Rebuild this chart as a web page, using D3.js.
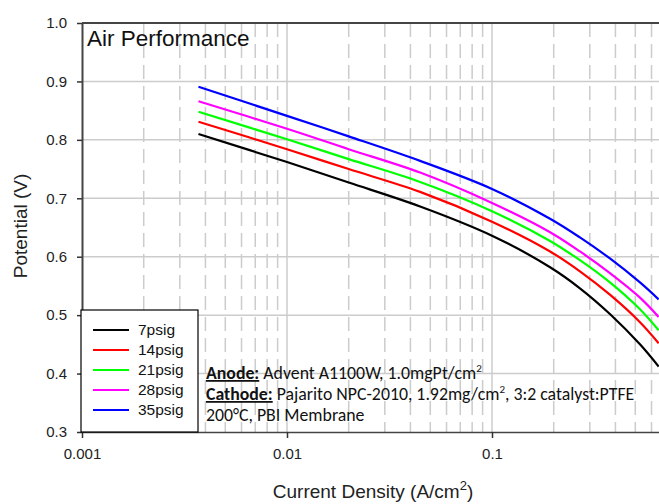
<!DOCTYPE html>
<html><head><meta charset="utf-8">
<script src="https://cdn.jsdelivr.net/npm/d3@7/dist/d3.min.js"></script>
<style>
body{margin:0;background:#fff;}
svg{display:block;}
</style></head>
<body>
<svg id="chart" width="659" height="504"></svg>
<script>
// ---- data ----
const seriesNames = ["7psig", "14psig", "21psig", "28psig", "35psig"];
const currentDensity = [0.0037, 0.01, 0.02, 0.0446, 0.1, 0.192, 0.2685, 0.376, 0.527, 0.65];
const v7psig  = [0.810, 0.762, 0.727, 0.686, 0.636, 0.582, 0.546, 0.502, 0.450, 0.412];
const v14psig = [0.831, 0.784, 0.750, 0.711, 0.660, 0.609, 0.575, 0.535, 0.488, 0.452];
const v21psig = [0.848, 0.801, 0.767, 0.728, 0.678, 0.627, 0.594, 0.556, 0.510, 0.474];
const v28psig = [0.866, 0.819, 0.784, 0.744, 0.692, 0.642, 0.609, 0.572, 0.530, 0.497];
const v35psig = [0.891, 0.841, 0.806, 0.764, 0.716, 0.665, 0.633, 0.597, 0.556, 0.527];
const xTickValues = [0.001, 0.01, 0.1];
const xTickLabels = ["0.001", "0.01", "0.1"];
const yTickValues = [0.3, 0.4, 0.5, 0.6, 0.7, 0.8, 0.9, 1.0];
const yTickLabels = ["0.3", "0.4", "0.5", "0.6", "0.7", "0.8", "0.9", "1.0"];

const seriesValues = [v7psig, v14psig, v21psig, v28psig, v35psig];
const colors = ["#000000", "#ff0000", "#00ff00", "#ff00ff", "#0000ff"];

(function () {
const svg = d3.select("#chart");
const pLeft = 82, pTop = 23, pBottom = 432;
const decade = 205;
const pRight = pLeft + decade * Math.log10(0.65 / 0.001);

const x = d3.scaleLog().domain([0.001, 0.65]).range([pLeft, pRight]);
const y = d3.scaleLinear().domain([0.3, 1.0]).range([pBottom, pTop]);

const sans = "'Liberation Sans', Arial, sans-serif";
const gridColor = "#cccccc";

// minor dashed x gridlines
const minor = [];
[0.001, 0.01, 0.1].forEach(d => { for (let k = 2; k <= 9; k++) { const v = d * k; if (v < 0.65) minor.push(v); } });
svg.append("g").selectAll("line").data(minor).join("line")
  .attr("x1", d => x(d)).attr("x2", d => x(d)).attr("y1", pTop).attr("y2", pBottom)
  .attr("stroke", gridColor).attr("stroke-width", 1.5).attr("stroke-dasharray", "14,7");
// major gridlines
svg.append("g").selectAll("line").data(xTickValues.slice(1)).join("line")
  .attr("x1", d => x(d)).attr("x2", d => x(d)).attr("y1", pTop).attr("y2", pBottom)
  .attr("stroke", gridColor).attr("stroke-width", 1.5);
svg.append("g").selectAll("line").data(yTickValues.slice(1, -1)).join("line")
  .attr("x1", pLeft).attr("x2", 659).attr("y1", d => y(d)).attr("y2", d => y(d))
  .attr("stroke", gridColor).attr("stroke-width", 1.5);

// curves
svg.append("clipPath").attr("id", "clip").append("rect")
  .attr("x", pLeft).attr("y", pTop).attr("width", 659 - pLeft).attr("height", pBottom - pTop);
const line = d3.line().x(d => x(d[0])).y(d => y(d[1])).curve(d3.curveCatmullRom.alpha(0.5));
svg.append("g").attr("clip-path", "url(#clip)").selectAll("path").data(seriesValues).join("path")
  .attr("d", vals => line(currentDensity.map((c, i) => [c, vals[i]])))
  .attr("fill", "none").attr("stroke", (d, i) => colors[i]).attr("stroke-width", 2.2);

// axes
const xAxis = svg.append("g").attr("transform", `translate(0,${pBottom})`)
  .call(d3.axisBottom(x).tickValues(xTickValues).tickFormat((d, i) => xTickLabels[i]).tickSize(6).tickSizeOuter(0));
xAxis.select(".domain").attr("stroke", "#444").attr("stroke-width", 1.5);
xAxis.selectAll(".tick line").attr("stroke", "#333").attr("stroke-width", 1.5);
xAxis.selectAll("text").attr("font-family", sans).attr("font-size", 15).attr("fill", "#222").attr("dy", "1.2em");

const yAxis = svg.append("g").attr("transform", `translate(${pLeft},0)`)
  .call(d3.axisLeft(y).tickValues(yTickValues).tickFormat((d, i) => yTickLabels[i]).tickSize(5).tickSizeOuter(0));
yAxis.select(".domain").attr("stroke", "#444").attr("stroke-width", 2);
yAxis.selectAll(".tick line").attr("stroke", "#333").attr("stroke-width", 1.5);
yAxis.selectAll("text").attr("font-family", sans).attr("font-size", 15).attr("fill", "#222").attr("x", -15);

// top border
svg.append("line").attr("x1", pLeft).attr("x2", 659).attr("y1", pTop).attr("y2", pTop)
  .attr("stroke", "#444").attr("stroke-width", 2);

// title inside
svg.append("text").attr("x", 87).attr("y", 46).attr("font-family", sans).attr("font-size", 22.5)
  .attr("fill", "#111").text("Air Performance");

// axis titles
const xt = svg.append("text").attr("x", 373).attr("y", 498).attr("text-anchor", "middle")
  .attr("font-family", sans).attr("font-size", 19).attr("fill", "#222");
xt.append("tspan").text("Current Density (A/cm");
xt.append("tspan").attr("dy", -8).attr("font-size", 13).text("2");
xt.append("tspan").attr("dy", 8).text(")");

svg.append("text").attr("transform", "translate(27,226) rotate(-90)").attr("text-anchor", "middle")
  .attr("font-family", sans).attr("font-size", 19).attr("fill", "#222").text("Potential (V)");

// legend
const lg = svg.append("g");
lg.append("rect").attr("x", 81).attr("y", 310).attr("width", 117).attr("height", 122)
  .attr("fill", "#fff").attr("stroke", "#000").attr("stroke-width", 1.2);
seriesNames.forEach((n, i) => {
  const yy = 330 + i * 20;
  lg.append("line").attr("x1", 93).attr("x2", 129).attr("y1", yy).attr("y2", yy)
    .attr("stroke", colors[i]).attr("stroke-width", 2.2);
  lg.append("text").attr("x", 138).attr("y", yy + 5).attr("font-family", sans).attr("font-size", 15.5)
    .attr("fill", "#111").text(n);
});

// annotation
const calibri = "Carlito, Calibri, Lato, sans-serif";
const ann = svg.append("g").attr("font-family", calibri).attr("font-size", 17.8).attr("fill", "#111");
const a1 = ann.append("text").attr("x", 206).attr("y", 379);
a1.append("tspan").attr("font-weight", "bold").attr("text-decoration", "underline").text("Anode:");
a1.append("tspan").text(" Advent A1100W, 1.0mgPt/cm");
a1.append("tspan").attr("dy", -7).attr("font-size", 11).text("2");
const a2 = ann.append("text").attr("x", 206).attr("y", 400);
a2.append("tspan").attr("font-weight", "bold").attr("text-decoration", "underline").text("Cathode:");
a2.append("tspan").text(" Pajarito NPC-2010, 1.92mg/cm");
a2.append("tspan").attr("dy", -7).attr("font-size", 11).text("2");
a2.append("tspan").attr("dy", 7).text(", 3:2 catalyst:PTFE");
ann.append("text").attr("x", 206).attr("y", 421).text("200°C, PBI Membrane");
})();
</script>
</body></html>
